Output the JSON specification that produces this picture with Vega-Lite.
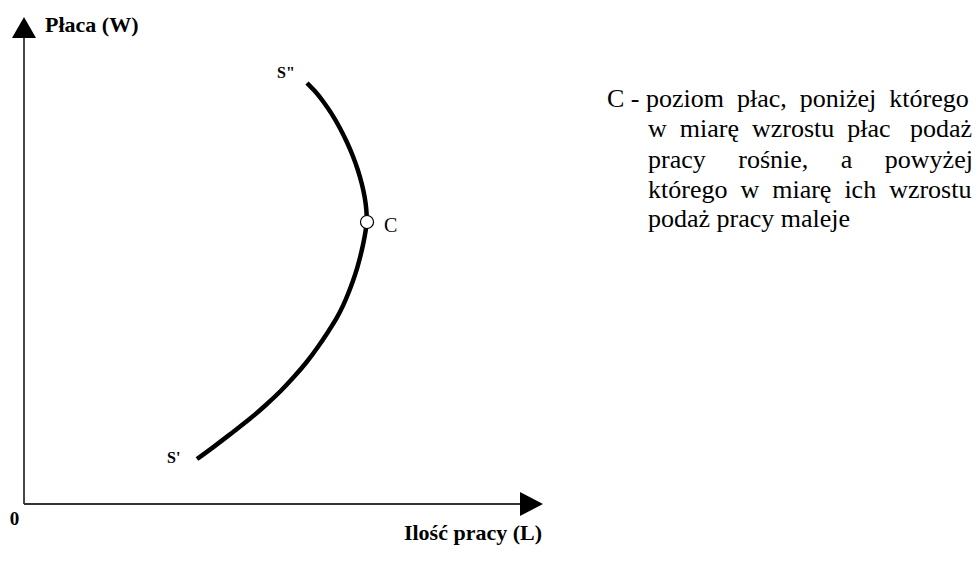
{
  "$schema": "https://vega.github.io/schema/vega-lite/v6.json",
  "width": 979,
  "height": 561,
  "autosize": {"type": "fit", "contains": "padding"},
  "padding": 0,
  "background": "white",
  "config": {"view": {"stroke": null}, "text": {"font": "Liberation Serif, Times New Roman, serif", "color": "black", "baseline": "alphabetic"}},
  "datasets": {
    "axes": [
      {"x": 0, "y": 0, "x2": 0, "y2": 468},
      {"x": 0, "y": 0, "x2": 498, "y2": 0}
    ],
    "supply": [
      {"i": 1, "x": 173, "y": 45},
      {"i": 2, "x": 191, "y": 58},
      {"i": 3, "x": 209, "y": 72},
      {"i": 4, "x": 226, "y": 85},
      {"i": 5, "x": 242, "y": 99},
      {"i": 6, "x": 257, "y": 113},
      {"i": 7, "x": 270, "y": 127},
      {"i": 8, "x": 283, "y": 142},
      {"i": 9, "x": 294, "y": 157},
      {"i": 10, "x": 304, "y": 172},
      {"i": 11, "x": 313, "y": 186},
      {"i": 12, "x": 319.5, "y": 199},
      {"i": 13, "x": 324.5, "y": 211},
      {"i": 14, "x": 329, "y": 223},
      {"i": 15, "x": 333, "y": 235},
      {"i": 16, "x": 336.5, "y": 248},
      {"i": 17, "x": 339.5, "y": 261},
      {"i": 18, "x": 341.5, "y": 272},
      {"i": 19, "x": 343, "y": 282},
      {"i": 20, "x": 342.5, "y": 294},
      {"i": 21, "x": 341, "y": 306},
      {"i": 22, "x": 338, "y": 320},
      {"i": 23, "x": 334, "y": 334},
      {"i": 24, "x": 329, "y": 348},
      {"i": 25, "x": 323, "y": 362},
      {"i": 26, "x": 316, "y": 376},
      {"i": 27, "x": 308, "y": 390},
      {"i": 28, "x": 299, "y": 403},
      {"i": 29, "x": 291, "y": 413},
      {"i": 30, "x": 283, "y": 421}
    ],
    "pointC": [{"x": 343, "y": 282}],
    "leftBold": [
      {"x": 21, "y": 472, "label": "Płaca (W)", "size": 22},
      {"x": 253, "y": 426, "label": "S\"", "size": 16},
      {"x": 143, "y": 41, "label": "S'", "size": 16}
    ],
    "note": [
      {"line": 1, "x": 583, "y": 397, "text": "C -\u00a0poziom\u00a0 płac,\u00a0 poniżej\u00a0 którego"},
      {"line": 2, "x": 624, "y": 367, "text": "w\u00a0 miarę\u00a0 wzrostu\u00a0 płac\u00a0\u00a0 podaż"},
      {"line": 3, "x": 624, "y": 336, "text": "pracy\u00a0\u00a0\u00a0\u00a0 rośnie,\u00a0\u00a0\u00a0\u00a0 a\u00a0\u00a0\u00a0\u00a0 powyżej"},
      {"line": 4, "x": 624, "y": 306, "text": "którego\u00a0 w\u00a0 miarę\u00a0 ich\u00a0 wzrostu"},
      {"line": 5, "x": 624, "y": 277, "text": "podaż pracy maleje"}
    ]
  },
  "encoding": {
    "x": {"field": "x", "type": "quantitative", "scale": {"domain": [-24, 955], "nice": false, "zero": false}, "axis": null},
    "y": {"field": "y", "type": "quantitative", "scale": {"domain": [-57, 504], "nice": false, "zero": false}, "axis": null}
  },
  "layer": [
    {
      "data": {"name": "axes"},
      "mark": {"type": "rule", "color": "#333333", "strokeWidth": 1.8},
      "encoding": {"x2": {"field": "x2"}, "y2": {"field": "y2"}}
    },
    {
      "data": {"values": [{"x": 0, "y": 476.5}]},
      "mark": {"type": "point", "shape": "M0,-0.875L1,0.875L-1,0.875Z", "filled": true, "color": "black", "size": 576, "opacity": 1}
    },
    {
      "data": {"values": [{"x": 507.5, "y": 0}]},
      "mark": {"type": "point", "shape": "M0.96,0L-0.96,1L-0.96,-1Z", "filled": true, "color": "black", "size": 576, "opacity": 1}
    },
    {
      "data": {"name": "supply"},
      "mark": {"type": "line", "color": "black", "strokeWidth": 4.5, "interpolate": "basis", "strokeCap": "butt"},
      "encoding": {"order": {"field": "i", "type": "quantitative"}}
    },
    {
      "data": {"name": "pointC"},
      "mark": {"type": "point", "shape": "circle", "filled": true, "fill": "white", "stroke": "black", "strokeWidth": 1.2, "size": 170, "opacity": 1}
    },
    {
      "data": {"values": [{"x": 360, "y": 272, "label": "C"}]},
      "mark": {"type": "text", "fontSize": 20, "align": "left"},
      "encoding": {"text": {"field": "label"}}
    },
    {
      "data": {"name": "leftBold"},
      "mark": {"type": "text", "fontWeight": "bold", "align": "left"},
      "encoding": {
        "text": {"field": "label"},
        "size": {"field": "size", "type": "quantitative", "scale": null}
      }
    },
    {
      "data": {"values": [{"x": -9.5, "y": -21, "label": "0"}]},
      "mark": {"type": "text", "fontWeight": "bold", "fontSize": 19, "align": "center"},
      "encoding": {"text": {"field": "label"}}
    },
    {
      "data": {"values": [{"x": 518, "y": -36, "label": "Ilość pracy (L)"}]},
      "mark": {"type": "text", "fontWeight": "bold", "fontSize": 22, "align": "right"},
      "encoding": {"text": {"field": "label"}}
    },
    {
      "data": {"name": "note"},
      "mark": {"type": "text", "fontSize": 26, "align": "left"},
      "encoding": {"text": {"field": "text"}}
    }
  ]
}
